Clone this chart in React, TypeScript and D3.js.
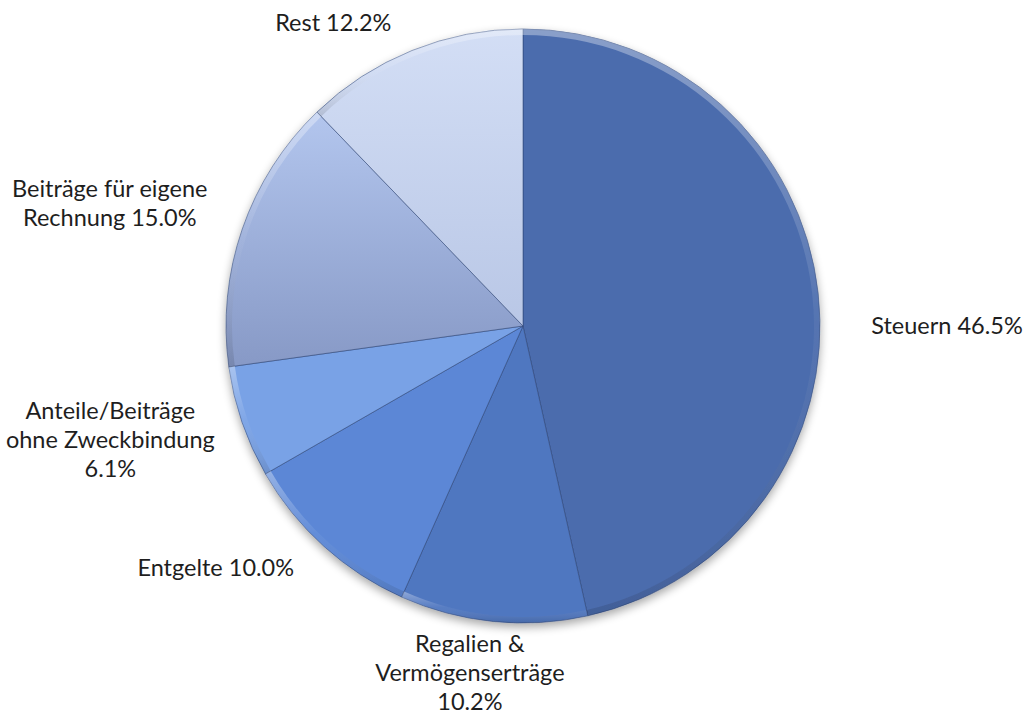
import React from "react";
import * as d3 from "d3";

// shares of revenue, clockwise from 12 o'clock
const categories: string[] = [
    "Steuern",
    "Regalien & Vermögenserträge",
    "Entgelte",
    "Anteile/Beiträge ohne Zweckbindung",
    "Beiträge für eigene Rechnung",
    "Rest",
];
const shares: number[] = [46.5, 10.2, 10.0, 6.1, 15.0, 12.2];

// how the label text breaks into lines (percentage appended or on its own line)
const nameLines: string[][] = [
    ["Steuern"],
    ["Regalien &", "Vermögenserträge"],
    ["Entgelte"],
    ["Anteile/Beiträge", "ohne Zweckbindung"],
    ["Beiträge für eigene", "Rechnung"],
    ["Rest"],
];
const pctOnOwnLine: boolean[] = [false, true, false, true, false, false];

const sliceColors: string[] = ["#4b6cad", "#5077c0", "#5b87d6", "#79a2e6", "#94a9d6", "#c8d5f0"];

// label placement: angle (deg, clockwise from top) and distance of block centre
const labelLayout = [
    { angle: 90, dist: 424 },
    { angle: 188.7, dist: 351 },
    { angle: 231.8, dist: 391 },
    { angle: 254.6, dist: 428 },
    { angle: 286.5, dist: 431 },
    { angle: 328, dist: 358 },
];

const W = 1027;
const H = 715;
const cx = 523;
const cy = 326;
const R = 297;
const lineH = 29;

export default function App() {
    const pie = d3.pie<number>().sort(null).value(d => d);
    const arcs = pie(shares);
    const arc = d3.arc<d3.PieArcDatum<number>>().innerRadius(0).outerRadius(R);
    const rim = d3.arc<d3.PieArcDatum<number>>().innerRadius(R - 6).outerRadius(R);

    return (
        <svg width={W} height={H} style={{ position: "absolute", left: 0, top: 0 }}
            fontFamily="Lato, 'Open Sans', sans-serif">
            <defs>
                <filter id="shadow" x="-20%" y="-20%" width="140%" height="140%">
                    <feGaussianBlur in="SourceAlpha" stdDeviation="5" />
                    <feOffset dx="0" dy="4" result="b" />
                    <feComponentTransfer><feFuncA type="linear" slope="0.35" /></feComponentTransfer>
                    <feMerge><feMergeNode /><feMergeNode in="SourceGraphic" /></feMerge>
                </filter>
                <linearGradient id="beitr" x1="0" y1="0" x2="0" y2="1">
                    <stop offset="0" stopColor="#b3c6ee" />
                    <stop offset="1" stopColor="#8799c6" />
                </linearGradient>
                <linearGradient id="rest" x1="0" y1="0" x2="0" y2="1">
                    <stop offset="0" stopColor="#d3def5" />
                    <stop offset="1" stopColor="#b9c7e6" />
                </linearGradient>
                <linearGradient id="rimGrad" x1="0" y1="0" x2="0" y2="1">
                    <stop offset="0" stopColor="#ffffff" stopOpacity="0.35" />
                    <stop offset="0.5" stopColor="#ffffff" stopOpacity="0.05" />
                    <stop offset="1" stopColor="#000000" stopOpacity="0.12" />
                </linearGradient>
            </defs>
            <g transform={`translate(${cx},${cy})`} filter="url(#shadow)">
                {arcs.map((a, i) => (
                    <path key={categories[i]} d={arc(a)!}
                        fill={i === 4 ? "url(#beitr)" : i === 5 ? "url(#rest)" : sliceColors[i]}
                        stroke="#2d4577" strokeOpacity={0.55} strokeWidth={1} strokeLinejoin="round" />
                ))}
                {arcs.map((a, i) => (
                    <path key={"rim" + i} d={rim(a)!} fill="url(#rimGrad)" />
                ))}
            </g>
            <g fontSize={23.5} fill="#1e1e1e" textAnchor="middle">
                {arcs.map((a, i) => {
                    const pct = shares[i].toFixed(1) + "%";
                    const names = nameLines[i];
                    const lines = pctOnOwnLine[i]
                        ? [...names, pct]
                        : [...names.slice(0, -1), names[names.length - 1] + " " + pct];
                    const ang = (labelLayout[i].angle * Math.PI) / 180;
                    const lx = cx + labelLayout[i].dist * Math.sin(ang);
                    const ly = cy - labelLayout[i].dist * Math.cos(ang);
                    const y0 = ly - ((lines.length - 1) * lineH) / 2;
                    return (
                        <text key={"lbl" + i} x={lx} y={y0} dy="0.35em">
                            {lines.map((t, j) => (
                                <tspan key={j} x={lx} y={y0 + j * lineH} dy="0.35em">{t}</tspan>
                            ))}
                        </text>
                    );
                })}
            </g>
        </svg>
    );
}
